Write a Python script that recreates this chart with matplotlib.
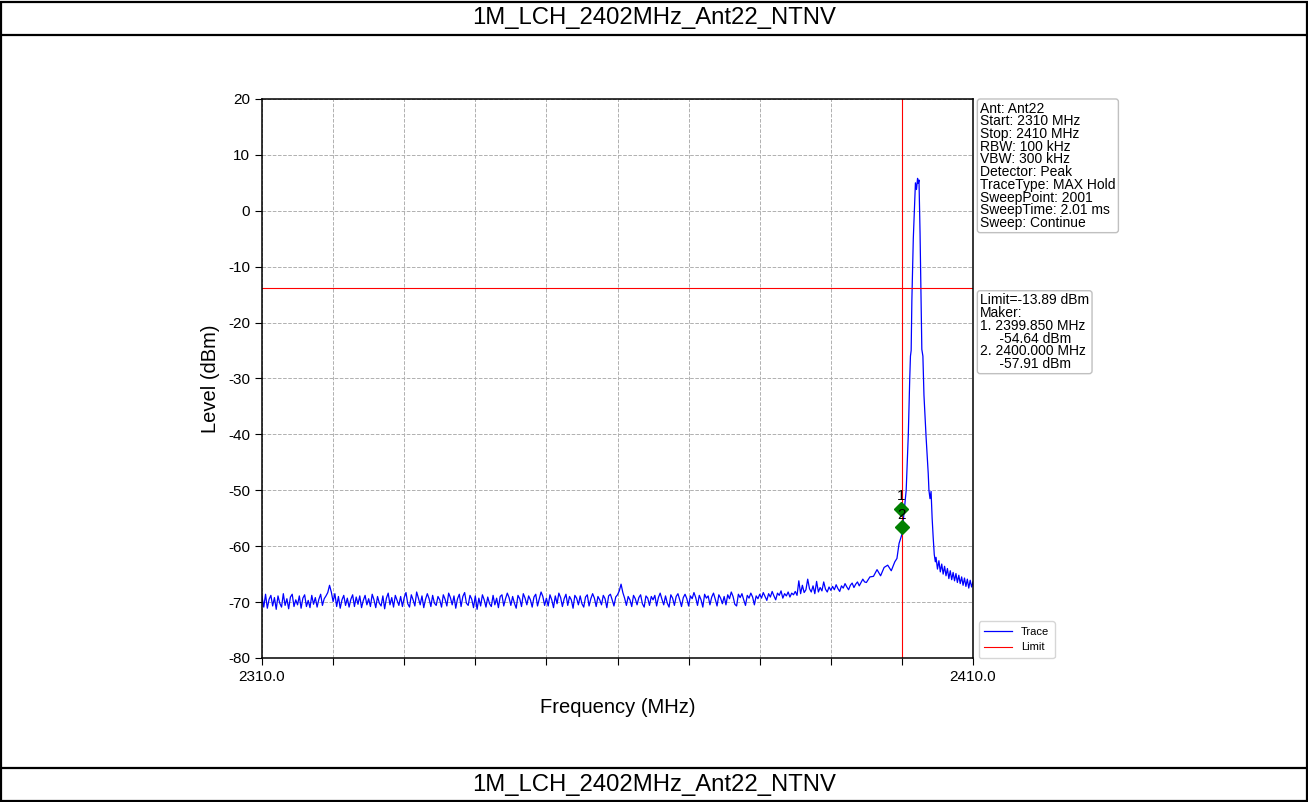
#!/usr/bin/env python3
"""Spectrum plot: 1M_LCH_2402MHz_Ant22_NTNV band-edge sweep."""

import numpy as np
import matplotlib
matplotlib.use("Agg")
import matplotlib.pyplot as plt
from matplotlib.lines import Line2D
from matplotlib.patches import Rectangle

plt.rcParams["font.family"] = ["Liberation Sans", "DejaVu Sans"]
plt.rcParams["axes.unicode_minus"] = False

TITLE = "1M_LCH_2402MHz_Ant22_NTNV"

# sweep settings
start_mhz = 2310.0
stop_mhz = 2410.0
limit_dbm = -13.89

# noise floor, 0.25 MHz steps from 2310 to 2394.75
floor_step = 0.25
floor_levels = [
    -69.0, -70.9, -68.6, -71.1, -69.5, -68.8, -70.7, -69.2, -71.3, -68.9, -70.2, -70.9, -68.5, -70.6, -69.4, -71.2, -69.1, -68.6, -70.8, -69.6,
    -70.5, -68.9, -71.1, -69.3, -68.7, -70.8, -69.7, -71.0, -68.8, -70.4, -69.2, -70.9, -69.5, -68.6, -70.6, -69.4, -68.9, -68.3, -67.0, -68.2,
    -69.9, -68.5, -70.8, -69.0, -71.1, -69.6, -68.8, -70.6, -69.3, -70.9, -69.5, -68.7, -70.8, -69.1, -70.4, -68.9, -71.0, -69.7, -68.8, -70.5,
    -69.4, -70.8, -68.6, -69.6, -71.0, -69.0, -70.2, -70.7, -68.9, -71.2, -69.3, -68.4, -70.5, -69.2, -70.9, -68.8, -69.7, -70.6, -69.0, -70.8,
    -69.2, -68.3, -70.3, -70.9, -68.7, -69.6, -70.7, -68.2, -69.3, -70.5, -68.9, -71.0, -69.5, -68.5, -69.4, -70.8, -68.8, -70.2, -70.6, -69.0,
    -69.6, -70.9, -68.7, -69.5, -70.7, -68.4, -69.2, -70.5, -68.9, -71.1, -69.4, -68.6, -70.8, -69.0, -68.3, -70.2, -70.6, -68.8, -69.5, -71.0,
    -68.9, -71.3, -69.3, -70.7, -68.7, -69.6, -70.9, -69.1, -70.3, -70.8, -68.8, -70.5, -69.3, -71.0, -69.0, -68.7, -70.7, -69.4, -68.4, -69.2,
    -70.6, -69.0, -70.2, -71.1, -68.8, -69.4, -70.8, -68.5, -69.3, -70.5, -68.9, -69.6, -70.9, -69.1, -68.6, -70.7, -69.4, -68.2, -69.0, -70.6,
    -69.3, -70.7, -68.7, -69.6, -71.0, -68.9, -70.3, -68.4, -69.2, -70.8, -69.4, -68.6, -70.6, -69.0, -69.6, -71.1, -68.8, -69.3, -70.5, -68.9,
    -70.3, -70.9, -69.1, -68.7, -70.7, -69.4, -68.5, -69.3, -70.8, -69.0, -69.6, -70.5, -68.8, -69.4, -71.0, -68.9, -68.6, -69.6, -70.7, -69.1,
    -68.7, -68.0, -66.8, -68.3, -69.3, -70.6, -69.0, -69.6, -70.8, -68.8, -69.4, -70.5, -69.2, -68.7, -70.3, -70.9, -68.9, -69.3, -70.6, -69.0,
    -69.6, -68.8, -70.7, -69.2, -68.4, -69.5, -70.5, -68.9, -70.2, -70.9, -68.7, -69.3, -70.6, -69.0, -68.5, -69.6, -70.8, -69.2, -68.6, -69.4,
    -70.7, -68.9, -69.4, -68.3, -69.2, -70.6, -68.8, -69.6, -70.9, -68.6, -69.3, -68.9, -70.5, -69.1, -68.4, -69.5, -70.7, -68.7, -69.3, -70.3,
    -69.0, -70.5, -68.7, -69.4, -68.2, -69.0, -70.4, -70.7, -68.6, -69.2, -68.5, -69.6, -70.6, -68.8, -69.3, -68.4, -69.1, -70.5, -68.9, -69.4,
    -68.6, -69.3, -68.3, -69.0, -69.7, -68.5, -69.1, -68.1, -68.9, -69.6, -68.4, -68.8, -68.0, -69.3, -68.5, -68.9, -68.2, -69.1, -68.4, -68.7,
    -68.1, -68.8, -66.2, -68.5, -67.0, -68.3, -67.8, -65.9, -67.6, -68.2, -67.1, -68.5, -66.3, -68.2, -67.4, -68.0, -66.4, -67.7, -68.2, -67.3,
    -67.9, -67.2, -67.8, -66.9, -67.6, -68.1, -67.1, -67.5, -66.7, -67.3, -67.8, -67.0, -66.6, -67.4, -66.8, -66.4, -67.1, -66.5, -65.9, -66.4,
]

# carrier and skirts, read point by point
peak_freqs = [
    2395.0, 2395.5, 2396.0, 2396.5, 2397.0, 2397.5, 2398.0, 2398.5, 2399.0, 2399.3,
    2399.6, 2400.0, 2400.3, 2400.6, 2400.9, 2401.1, 2401.2, 2401.3, 2401.4, 2401.6,
    2401.9, 2402.05, 2402.2, 2402.3, 2402.4, 2402.55, 2402.7, 2402.8, 2402.95, 2403.1,
    2403.4, 2403.7, 2403.8, 2403.95, 2404.1, 2404.25, 2404.4, 2404.55, 2404.7,
    2404.8, 2405.0, 2405.2, 2405.4, 2405.6, 2405.8, 2406.0, 2406.2, 2406.4, 2406.6,
    2406.8, 2407.0, 2407.2, 2407.4, 2407.6, 2407.8, 2408.0, 2408.2, 2408.4, 2408.6,
    2408.8, 2409.0, 2409.2, 2409.4, 2409.6, 2409.8, 2410.0,
]
peak_levels = [
    -66.5, -65.5, -65.4, -64.2, -65.3, -63.8, -63.4, -64.4, -62.8, -62.2,
    -59.5, -57.9, -54.0, -50.0, -40.0, -30.0, -26.0, -25.0, -16.0, -5.0,
    5.0, 3.8, 5.8, 4.9, 5.5, -4.0, -16.0, -24.8, -26.0, -33.0,
    -40.5, -47.0, -50.0, -51.5, -50.2, -55.0, -58.5, -61.5, -62.8,
    -62.0, -64.1, -62.6, -64.6, -63.2, -65.0, -63.6, -65.3, -64.0, -65.8,
    -64.4, -66.0, -64.7, -66.2, -64.9, -66.5, -65.2, -66.7, -65.5, -67.0,
    -65.7, -67.2, -65.9, -67.5, -66.1, -67.3, -66.4,
]

# markers (positions as drawn)
marker_freqs = [2399.85, 2400.0]
marker_levels = [-53.3, -56.6]
marker_names = ["1", "2"]

info_text = ("Ant: Ant22\nStart: 2310 MHz\nStop: 2410 MHz\nRBW: 100 kHz\nVBW: 300 kHz\n"
             "Detector: Peak\nTraceType: MAX Hold\nSweepPoint: 2001\nSweepTime: 2.01 ms\n"
             "Sweep: Continue")
marker_text = ("Limit=-13.89 dBm\nMaker:\n1. 2399.850 MHz\n     -54.64 dBm\n"
               "2. 2400.000 MHz\n     -57.91 dBm")


def main():
    floor_freqs = start_mhz + floor_step * np.arange(len(floor_levels))
    freqs = np.concatenate([floor_freqs, peak_freqs])
    levels = np.concatenate([floor_levels, peak_levels])

    fig = plt.figure(figsize=(13.08, 8.02), dpi=100)
    ax = fig.add_axes([0.2003, 0.1796, 0.5436, 0.697])

    # page frame with title rows
    fig.add_artist(Rectangle((0.001, 0.001), 0.998, 0.997, transform=fig.transFigure,
                             fill=False, edgecolor="black", linewidth=1.6))
    for y in (1 - 35 / 802, 1 - 768 / 802):
        fig.add_artist(Line2D([0, 1], [y, y], transform=fig.transFigure,
                              color="black", linewidth=1.6))
    fig.text(0.5, 1 - 18 / 802, TITLE, ha="center", va="center", fontsize=17.2)
    fig.text(0.5, 1 - 785 / 802, TITLE, ha="center", va="center", fontsize=17.2)

    ax.plot(freqs, levels, color="blue", linewidth=0.9, label="Trace")
    ax.axhline(limit_dbm, color="red", linewidth=0.8, label="Limit")
    ax.axvline(marker_freqs[1], color="red", linewidth=0.8)

    ax.plot(marker_freqs, marker_levels, linestyle="none", marker="D",
            color="green", markersize=7, zorder=5)
    for f, lv, name in zip(marker_freqs, marker_levels, marker_names):
        ax.text(f, lv + 1.0, name, ha="center", va="bottom", fontsize=11, zorder=6)

    ax.set_xlim(start_mhz, stop_mhz)
    ax.set_ylim(-80, 20)
    ax.set_yticks(np.arange(-80, 21, 10))
    xt = np.arange(start_mhz, stop_mhz + 1, 10)
    ax.set_xticks(xt)
    ax.set_xticklabels([f"{v:.1f}" if v in (start_mhz, stop_mhz) else "" for v in xt])
    ax.tick_params(direction="out", length=5, labelsize=11)
    ax.grid(True, linestyle="--", color="#b0b0b0", linewidth=0.7)
    for s in ax.spines.values():
        s.set_linewidth(1.1)

    ax.set_xlabel("Frequency (MHz)", fontsize=14.5, labelpad=10)
    ax.set_ylabel("Level (dBm)", fontsize=14.5, labelpad=6)

    box = dict(boxstyle="round,pad=0.2", facecolor="white", edgecolor="#c0c0c0", linewidth=1)
    ax.text(1.01, 0.995, info_text, transform=ax.transAxes, ha="left", va="top",
            fontsize=10, linespacing=0.88, bbox=box)
    ax.text(1.01, 0.652, marker_text, transform=ax.transAxes, ha="left", va="top",
            fontsize=10, linespacing=0.88, bbox=box)

    ax.legend(loc="lower left", bbox_to_anchor=(1.0, -0.01), fontsize=8,
              handlelength=2.5, frameon=True, borderpad=0.5)

    fig.savefig("out.png", dpi=100)
    plt.close(fig)


if __name__ == "__main__":
    main()
